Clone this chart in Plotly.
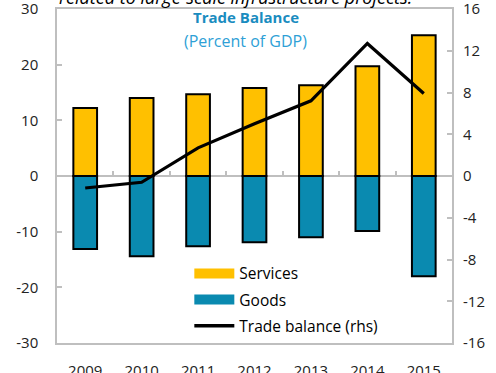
import plotly.graph_objects as go

years = ["2009", "2010", "2011", "2012", "2013", "2014", "2015"]
services = [12.2, 14.0, 14.7, 15.8, 16.3, 19.7, 25.3]
goods = [-13.1, -14.4, -12.6, -11.9, -11.0, -9.9, -18.0]
trade_balance = [-1.15, -0.6, 2.7, 5.0, 7.2, 12.7, 7.9]

left_ticks = [30, 20, 10, 0, -10, -20, -30]
right_ticks = [16, 12, 8, 4, 0, -4, -8, -12, -16]

xpos = list(range(len(years)))
FONT = "Open Sans"
GRAY = "#BFBFBF"
YELLOW = "#FFC000"
BLUE = "#0A8AB0"


def hyphen_labels(vals):
    return [str(v) for v in vals]


fig = go.Figure()
fig.add_trace(go.Bar(
    x=xpos, y=services, name="Services", showlegend=False,
    marker=dict(color=YELLOW, line=dict(color="black", width=2)),
    width=0.42,
))
fig.add_trace(go.Bar(
    x=xpos, y=goods, name="Goods", showlegend=False,
    marker=dict(color=BLUE, line=dict(color="black", width=2)),
    width=0.42,
))
fig.add_trace(go.Scatter(
    x=xpos, y=trade_balance, name="Trade balance (rhs)", showlegend=False,
    mode="lines", line=dict(color="black", width=3.2), yaxis="y2",
))

# legend entries drawn as wide swatches
for name, color, w, grp in [("Services", YELLOW, 13, "s"),
                            ("Goods", BLUE, 13, "g"),
                            ("Trade balance (rhs)", "black", 3.5, "t")]:
    fig.add_trace(go.Scatter(
        x=[None], y=[None], name=name, legendgroup=grp, mode="lines",
        line=dict(color=color, width=w), hoverinfo="skip",
    ))

fig.add_trace(go.Scatter(x=[None], y=[None], xaxis="x2", showlegend=False,
                         hoverinfo="skip"))

fig.update_layout(
    width=496, height=373,
    margin=dict(l=57, r=44, t=9, b=30, autoexpand=False),
    paper_bgcolor="white", plot_bgcolor="white",
    barmode="relative",
    font=dict(family=FONT, size=15, color="#222222"),
    showlegend=True,
    legend=dict(
        x=0.335, y=0.258, xanchor="left", yanchor="top",
        bgcolor="rgba(0,0,0,0)", font=dict(size=15.5, color="black"),
        tracegroupgap=3, traceorder="grouped", itemwidth=40,
    ),
    xaxis=dict(
        range=[-0.5, 6.5], tickvals=xpos, ticktext=years,
        showline=True, linecolor=GRAY, linewidth=1.5, mirror=True,
        ticks="", showgrid=False, zeroline=False, automargin=False,
        ticklabelstandoff=13, tickfont=dict(size=15),
        ticklabeloverflow="allow",
    ),
    xaxis2=dict(
        overlaying="x", anchor="free", position=0.5,
        range=[-0.5, 6.5], tickvals=[i + 0.5 for i in xpos[:-1]],
        showticklabels=False, ticks="inside", ticklen=5,
        tickcolor=GRAY, tickwidth=1.5, showline=False, showgrid=False,
        zeroline=False, layer="above traces",
    ),
    yaxis=dict(
        range=[-30.001, 30.001], tickvals=left_ticks,
        ticktext=hyphen_labels(left_ticks),
        showline=True, linecolor=GRAY, linewidth=1.5, mirror=True,
        ticks="inside", ticklen=5, tickcolor=GRAY, tickwidth=1.5,
        showgrid=False, zeroline=True, zerolinecolor=GRAY, zerolinewidth=1.5,
        ticklabelstandoff=14, layer="above traces", automargin=False,
        tickfont=dict(size=15), ticklabeloverflow="allow",
    ),
    yaxis2=dict(
        range=[-16.0005, 16.0005], tickvals=right_ticks,
        ticktext=hyphen_labels(right_ticks),
        overlaying="y", side="right",
        ticks="inside", ticklen=5, tickcolor=GRAY, tickwidth=1.5,
        showline=False, showgrid=False, zeroline=False, automargin=False,
        ticklabelstandoff=10, tickfont=dict(size=15),
        ticklabeloverflow="allow",
    ),
    annotations=[
        dict(text="<i>related to large-scale infrastructure projects.</i>",
             xref="paper", yref="paper", x=0.0, y=1.0, xanchor="left",
             yanchor="bottom", yshift=-2, showarrow=False,
             font=dict(size=18, color="black")),
        dict(text="<b>Trade Balance</b>", xref="paper", yref="paper",
             x=0.478, y=0.976, xanchor="center", yanchor="middle",
             showarrow=False, font=dict(size=15, color="#1A8CBF")),
        dict(text="(Percent of GDP)", xref="paper", yref="paper",
             x=0.478, y=0.904, xanchor="center", yanchor="middle",
             showarrow=False, font=dict(size=16, color="#2E9FD6")),
    ],
)

fig.write_html("out.html")
